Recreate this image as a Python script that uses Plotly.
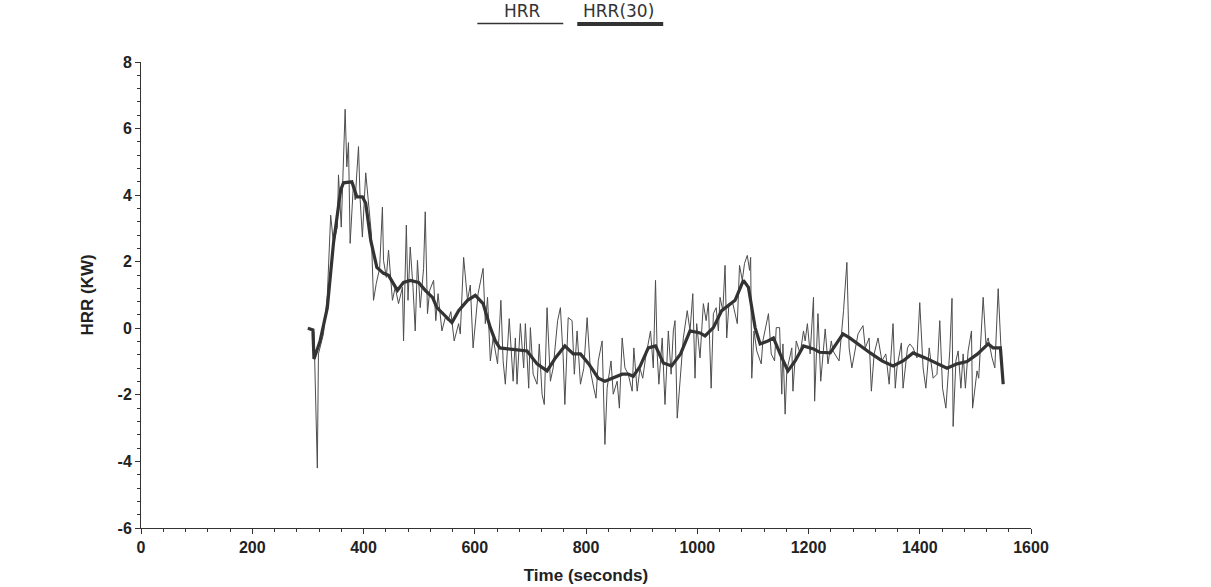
import plotly.graph_objects as go

# Raw heat release rate (thin line)
hrr_time = [300, 311, 317, 319, 328, 335, 341, 346, 353, 355, 360, 363, 367, 370, 373, 376, 382, 385, 391, 394,
            398, 404, 409, 414, 418, 423, 429, 434, 436, 441, 445, 450, 452, 457, 463, 470, 472, 477, 480, 484,
            489, 493, 497, 502, 508, 511, 515, 519, 526, 530, 534, 541, 547, 552, 557, 563, 571, 574, 580, 587,
            592, 597, 606, 615, 619, 623, 628, 633, 641, 647, 651, 655, 662, 669, 673, 676, 682, 688, 691, 697,
            700, 705, 712, 716, 721, 725, 730, 736, 741, 749, 754, 759, 762, 768, 775, 779, 784, 790, 796, 802,
            808, 814, 818, 822, 829, 834, 838, 845, 849, 856, 860, 865, 870, 876, 883, 886, 892, 897, 902, 907,
            912, 916, 921, 925, 928, 931, 937, 942, 948, 953, 957, 960, 964, 968, 975, 982, 987, 992, 996, 999,
            1005, 1011, 1016, 1020, 1025, 1029, 1034, 1038, 1041, 1046, 1050, 1053, 1057, 1064, 1072, 1076, 1081, 1085, 1090, 1094,
            1096, 1098, 1102, 1107, 1115, 1118, 1128, 1133, 1139, 1142, 1148, 1152, 1154, 1158, 1161, 1170, 1172, 1178, 1185, 1191,
            1194, 1198, 1203, 1209, 1211, 1217, 1222, 1230, 1235, 1241, 1244, 1255, 1263, 1269, 1273, 1278, 1284, 1289, 1298, 1302,
            1309, 1313, 1318, 1325, 1332, 1339, 1345, 1352, 1356, 1359, 1367, 1370, 1378, 1382, 1388, 1395, 1400, 1406, 1411, 1417,
            1424, 1431, 1436, 1441, 1447, 1451, 1454, 1458, 1460, 1465, 1469, 1474, 1478, 1482, 1487, 1493, 1495, 1503, 1506, 1514,
            1519, 1523, 1530, 1535, 1541, 1546, 1550]
hrr_value = [0.0, -0.1, -4.2, -0.77, -0.17, 1.0, 3.4, 2.55, 3.04, 4.61, 3.04, 4.37, 6.58, 4.85, 5.58, 2.55, 4.37, 3.86, 5.46, 3.86,
             2.74, 4.67, 3.86, 2.86, 0.84, 1.35, 1.8, 3.64, 2.04, 1.53, 2.35, 1.14, 0.84, 1.23, 0.74, 1.23, -0.38, 3.1, 0.84, 2.44,
             1.23, -0.08, 2.04, 0.62, 1.8, 3.5, 0.44, 1.14, 1.44, 0.23, 1.04, -0.08, 0.32, 0.23, 0.5, -0.38, 0.14, -0.17, 2.13, 0.84,
             1.3, -0.59, 1.04, 1.8, 0.14, 0.93, -0.98, -0.29, -1.07, 0.84, -0.98, -1.68, 0.29, -1.59, -0.29, -1.68, 0.14, -1.19, 0.14, -1.8,
             0.02, -1.38, -1.68, -0.47, -1.98, -2.29, 0.62, -1.59, -1.19, 0.23, 0.62, -0.89, -2.29, 0.32, 0.23, -1.38, -0.08, -1.68, -1.2, 0.32,
             -1.28, -1.8, -2.1, -0.98, -0.38, -3.49, -1.8, -0.98, -1.98, -1.59, -2.4, -0.29, -1.19, -1.38, -1.89, -0.59, -1.89, -1.2, -1.5, -0.9,
             -0.47, -0.08, -1.19, 1.44, -0.77, -1.68, -0.29, -2.29, -0.08, -1.38, -0.08, 0.23, -2.7, -1.89, -0.29, 0.53, -0.08, 1.04, -1.5, 0.14,
             -0.89, 0.74, 0.23, 0.77, -1.8, 0.44, 0.62, -0.08, 0.93, 0.53, 1.89, -0.29, 0.74, 0.74, 0.14, 1.89, 1.44, 1.95, 2.19, 1.74,
             2.13, -1.5, -0.08, -0.68, -1.07, -0.38, 0.44, -0.77, -0.98, 0.02, 0.02, -1.98, -0.47, -2.58, -1.28, -0.59, -1.89, -0.38, -0.77, -0.08,
             -0.38, 0.14, -0.77, 0.93, -2.19, 0.44, -1.59, -0.02, -1.07, -0.38, -0.68, -0.98, 0.53, 1.98, -0.59, -1.19, -0.68, -0.17, 0.08, -0.59,
             -0.29, -1.89, -0.77, -0.29, -0.98, -0.77, -1.68, 0.14, -1.8, -1.19, -0.44, -1.8, -0.59, -0.47, -0.59, -0.89, 0.77, -1.19, -1.8, -0.59,
             -1.5, -1.38, 0.23, -1.8, -2.4, -1.38, -0.68, 0.9, -2.95, -0.98, -0.68, -1.8, -0.77, -1.8, -0.68, -0.08, -2.4, -1.28, -1.5, 0.93,
             -0.47, -0.29, -0.89, -1.19, 1.19, -0.59, -1.68]

# 30-second average (thick line)
avg_time = [300, 309, 311, 322, 335, 346, 359, 364, 379, 388, 398, 404, 413, 424, 436, 445, 461, 472, 484, 499,
            511, 524, 532, 543, 559, 571, 587, 601, 615, 628, 637, 645, 664, 694, 712, 730, 745, 762, 777, 790,
            805, 822, 834, 849, 865, 876, 885, 897, 912, 925, 939, 954, 970, 987, 1005, 1014, 1029, 1044, 1068, 1083,
            1092, 1104, 1113, 1127, 1137, 1149, 1163, 1176, 1191, 1209, 1220, 1239, 1262, 1274, 1293, 1311, 1332, 1352, 1370, 1388,
            1410, 1431, 1449, 1467, 1485, 1504, 1523, 1532, 1545, 1550]
avg_value = [0.0, -0.05, -0.92, -0.38, 0.62, 2.55, 4.16, 4.37, 4.4, 3.95, 3.95, 3.76, 2.64, 1.83, 1.65, 1.59, 1.14, 1.38, 1.44, 1.38,
             1.14, 0.93, 0.62, 0.44, 0.17, 0.53, 0.84, 0.99, 0.74, 0.02, -0.38, -0.59, -0.62, -0.68, -1.07, -1.28, -0.89, -0.53, -0.77, -0.77,
             -1.07, -1.5, -1.59, -1.5, -1.38, -1.38, -1.44, -1.15, -0.59, -0.53, -1.04, -1.13, -0.77, -0.08, -0.14, -0.23, 0.02, 0.53, 0.84, 1.44,
             1.23, 0.02, -0.47, -0.38, -0.29, -0.77, -1.28, -0.98, -0.53, -0.62, -0.72, -0.74, -0.17, -0.29, -0.53, -0.74, -0.98, -1.13, -0.98, -0.74,
             -0.89, -1.07, -1.2, -1.07, -1.0, -0.77, -0.47, -0.59, -0.59, -1.68]

x_ticks = [0, 200, 400, 600, 800, 1000, 1200, 1400, 1600]
y_ticks = [-6, -4, -2, 0, 2, 4, 6, 8]
series_names = ["HRR", "HRR(30)"]

fig = go.Figure()
fig.add_trace(go.Scatter(x=hrr_time, y=hrr_value, mode="lines", name=series_names[0],
                         line=dict(color="#4d4d4d", width=1)))
fig.add_trace(go.Scatter(x=avg_time, y=avg_value, mode="lines", name=series_names[1],
                         line=dict(color="#333333", width=3.2)))

tick_font = dict(family="Liberation Sans", size=16, color="#222222", weight="bold")
title_font = dict(family="Liberation Sans", size=17, color="#222222", weight="bold")

# the page's body margin is removed (see post_script), so the figure fills the window
W, H = 1211, 587
ML, MT = 140.5, 62
PW, PH = 890.5, 466

fig.update_layout(
    width=W, height=H,
    margin=dict(l=ML, r=W - ML - PW, t=MT, b=H - MT - PH, autoexpand=False),
    paper_bgcolor="white", plot_bgcolor="white",
    showlegend=False,
    xaxis=dict(range=[0, 1600], tickvals=x_ticks, ticktext=[str(v) for v in x_ticks],
               showgrid=False, zeroline=False,
               showline=True, linecolor="#333333", linewidth=1,
               ticks="outside", ticklen=5, tickcolor="#333333",
               minor=dict(dtick=40, ticks="outside", ticklen=3, tickcolor="#333333"),
               tickfont=tick_font,
               title=dict(text="Time (seconds)", font=title_font, standoff=13)),
    yaxis=dict(range=[-6, 8], tickvals=y_ticks, ticktext=[str(v) for v in y_ticks],
               showgrid=False, zeroline=False,
               showline=True, linecolor="#333333", linewidth=1,
               ticks="outside", ticklen=5, tickcolor="#333333",
               minor=dict(dtick=0.4, ticks="outside", ticklen=3, tickcolor="#333333"),
               tickfont=tick_font,
               title=dict(text="HRR (KW)", font=title_font, standoff=19)),
)


def px_x(p):
    return (p - ML) / PW


def px_y(p):
    return 1 + (MT - p) / PH


# Custom legend: label above a line sample
legend_font = dict(family="DejaVu Sans", size=17, color="#333333")
fig.add_annotation(xref="paper", yref="paper", x=px_x(522), y=px_y(11),
                   text=series_names[0], showarrow=False, font=legend_font,
                   xanchor="center", yanchor="middle")
fig.add_annotation(xref="paper", yref="paper", x=px_x(618), y=px_y(11),
                   text=series_names[1], showarrow=False, font=legend_font,
                   xanchor="center", yanchor="middle")
fig.add_shape(type="line", xref="paper", yref="paper",
              x0=px_x(477), x1=px_x(563), y0=px_y(23.5), y1=px_y(23.5),
              line=dict(color="#333333", width=1.5))
fig.add_shape(type="line", xref="paper", yref="paper",
              x0=px_x(577), x1=px_x(663), y0=px_y(24), y1=px_y(24),
              line=dict(color="#333333", width=4))

fig.write_html("out.html", config={"displayModeBar": False},
               post_script="document.body.style.margin='0';")
